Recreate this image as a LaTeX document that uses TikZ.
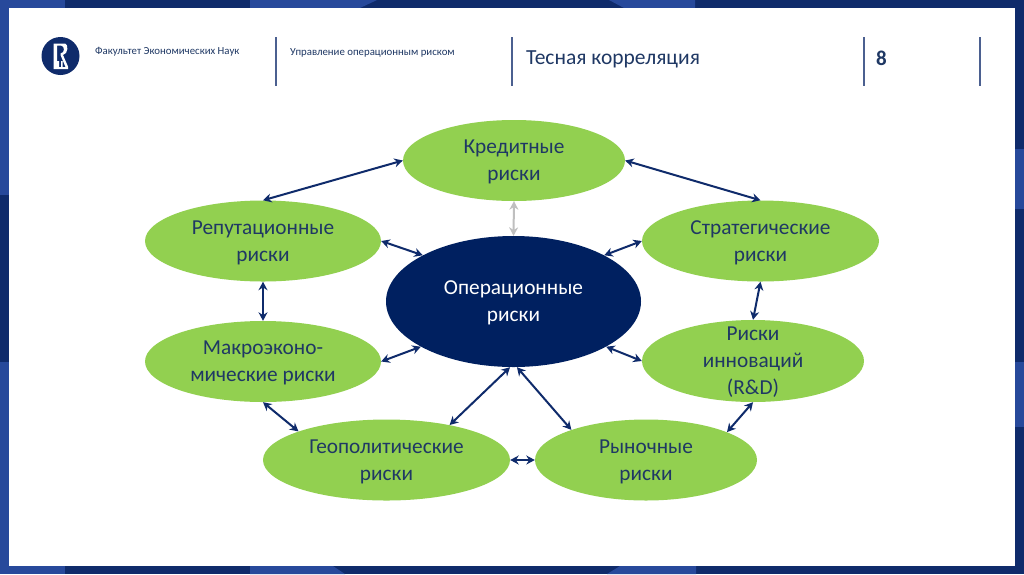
\documentclass[tikz,border=0pt]{standalone}
\usepackage{fontspec}
\setmainfont{Carlito}
\definecolor{hseblue}{HTML}{27499B}
\definecolor{hsenavy}{HTML}{0F2B6B}
\definecolor{riskgreen}{HTML}{92D050}
\definecolor{corenavy}{HTML}{002060}
\definecolor{labelnavy}{HTML}{1F3864}
\usetikzlibrary{shapes.geometric, arrows.meta}
\tikzset{
    risk/.style={ellipse, fill=riskgreen, text=labelnavy, font=\fontsize{21.3}{27}\selectfont, align=center, inner sep=0pt, text depth=0pt},
    link/.style={<->, draw=hsenavy, line width=2pt},
    sepline/.style={draw=hsenavy!75, line width=1.1pt},
    headtext/.style={anchor=west, text=labelnavy, inner sep=0pt},
}
\begin{document}
\begin{tikzpicture}[>={Stealth[length=8.5pt, width=9pt]}, x=1pt, y=-1pt]
    % Frame
    \fill[hsenavy] (0,0) rectangle (1024,574);
    \fill[hseblue] (0,0) rectangle (65,8);
    \fill[hseblue] (250,0) -- (377,0) -- (360,8) -- (250,8) -- cycle;
    \fill[hseblue] (609,0) -- (695,0) -- (695,8) -- (624,8) -- cycle;
    \fill[hseblue] (0,566) rectangle (65,574);
    \fill[hseblue] (250,566) -- (333,566) -- (345,574) -- (250,574) -- cycle;
    \fill[hseblue] (620,566) -- (696,566) -- (696,574) -- (607,574) -- cycle;
    \fill[hseblue] (0,0) rectangle (9,195);
    \fill[hseblue] (0,362) rectangle (9,574);
    \fill[hseblue] (1015,149) rectangle (1024,209);
    \fill[hseblue] (1015,362) rectangle (1024,427);
    \fill[white] (9,8) rectangle (1015,566);
    \useasboundingbox (0,0) rectangle (1024,574);

    % Header
    \node[circle, fill=hsenavy, minimum size=38pt, inner sep=0pt] (logo) at (60.5,56) {};
    \fill[white] (53.5,43.5) -- (65,43.5) .. controls (68.5,44) and (68.5,54) .. (63,55) -- (68,66.5) -- (68,69) -- (57,69) -- (57,61) -- (59,61) -- (59,67) -- (61,67) -- (61,61) -- (62.5,61) -- (62.5,67) -- (65.5,67) -- (60.5,55) -- (60.5,53.5) .. controls (65,53) and (65,46) .. (61,45.5) -- (57,45.5) -- (57,69) -- (53.5,69) -- cycle;
    \node[headtext, font=\fontsize{10.8}{12}\selectfont] (faculty) at (95,51.5) {Факультет Экономических Наук};
    \node[headtext, font=\fontsize{10.8}{12}\selectfont] (course) at (290,52.5) {Управление операционным риском};
    \node[headtext, font=\fontsize{21.5}{25}\selectfont] (title) at (526,59) {Тесная корреляция};
    \node[headtext, font=\fontsize{21}{25}\selectfont\bfseries] (page) at (876,58) {8};
    \foreach \x in {276,512,864,980} {
        \draw[sepline] (\x,37) -- (\x,86);
    }

    % Risks
    \node[risk, minimum width=222pt, minimum height=81pt] (credit) at (514,160.5) {Кредитные\\риски};
    \node[risk, minimum width=236pt, minimum height=81pt] (reput) at (263,241) {Репутационные\\риски};
    \node[risk, minimum width=237pt, minimum height=81pt] (strat) at (760.5,241) {Стратегические\\риски};
    \node[risk, minimum width=236pt, minimum height=81pt] (macro) at (263,361.5) {Макроэконо-\\мические риски};
    \node[risk, inner ysep=-8pt, minimum width=222pt, minimum height=82pt] (innov) at (753,361) {Риски\\инноваций\\(R\&D)};
    \node[risk, minimum width=247pt, minimum height=81pt] (geo) at (386.5,460) {Геополитические\\риски};
    \node[risk, minimum width=222pt, minimum height=81pt] (market) at (646,460) {Рыночные\\риски};
    \node[risk, fill=corenavy, text=white, minimum width=255pt, minimum height=131pt] (oper) at (513.5,301.5) {Операционные\\риски};

    % Links
    \draw[link] (credit.west) -- (reput.north);
    \draw[link] (credit.east) -- (strat.north);
    \draw[link, draw=black!25] (credit.south) -- (oper.north);
    \draw[link] (reput.east) -- (oper.153);
    \draw[link] (strat.west) -- (oper.27);
    \draw[link] (macro.east) -- (oper.206);
    \draw[link] (innov.west) -- (oper.334);
    \draw[link] (reput.south) -- (macro.north);
    \draw[link] (strat.south) -- (innov.north);
    \draw[link] (macro.south) -- (geo.162);
    \draw[link] (innov.south) -- (market.19);
    \draw[link] (geo.east) -- (market.west);
    \draw[link] (geo.29) -- (oper.267);
    \draw[link] (market.158) -- (oper.273);
\end{tikzpicture}
\end{document}
